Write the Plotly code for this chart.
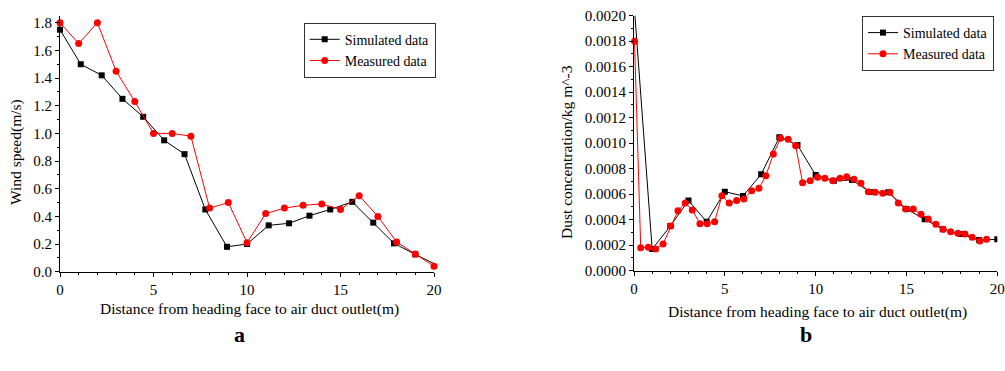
import plotly.graph_objects as go

W, H = 1005, 371

# ---- chart a: wind speed ----
a_sim_x = [0, 1.11, 2.23, 3.34, 4.45, 5.57, 6.66, 7.77, 8.93, 10.0, 11.16, 12.25, 13.34, 14.45, 15.63, 16.75, 17.86, 19.0, 20.05]
a_sim_y = [1.75, 1.50, 1.42, 1.25, 1.12, 0.95, 0.85, 0.45, 0.18, 0.20, 0.335, 0.35, 0.405, 0.45, 0.505, 0.355, 0.205, 0.125, 0.055]
a_mea_x = list(range(0, 21))
a_mea_y = [1.80, 1.65, 1.80, 1.45, 1.23, 1.00, 1.00, 0.98, 0.46, 0.50, 0.21, 0.42, 0.46, 0.48, 0.49, 0.45, 0.55, 0.40, 0.215, 0.128, 0.04]

# ---- chart b: dust concentration ----
b_sim_x = list(range(0, 21))
b_sim_y = [0.0021, 0.00017, 0.00035, 0.00055, 0.000384, 0.00062, 0.000586, 0.000756, 0.001046, 0.000986,
           0.00075, 0.000706, 0.000711, 0.000617, 0.000615, 0.000484, 0.000403, 0.000325, 0.000288, 0.00024, 0.000246]
b_mea_x = [0.03, 0.37, 0.79, 1.19, 1.60, 2.02, 2.42, 2.82, 3.21, 3.63, 4.03, 4.44, 4.84, 5.24, 5.65,
           6.05, 6.48, 6.88, 7.26, 7.67, 8.07, 8.49, 8.90, 9.28, 9.70, 10.11, 10.51, 10.94, 11.34, 11.71,
           12.11, 12.49, 12.90, 13.28, 13.69, 14.09, 14.55, 14.95, 15.37, 15.80, 16.20, 16.62, 17.02, 17.43,
           17.83, 18.22, 18.62, 19.04, 19.41]
b_mea_y = [0.0018, 0.00018, 0.000183, 0.00017, 0.00021, 0.00035, 0.00047, 0.00053, 0.000476, 0.000369,
           0.000369, 0.000384, 0.000588, 0.00053, 0.00055, 0.000562, 0.000627, 0.000646, 0.000745, 0.000915,
           0.001038, 0.00103, 0.00098, 0.00069, 0.000706, 0.000733, 0.000725, 0.000706, 0.000725, 0.000737,
           0.000717, 0.000685, 0.00062, 0.000615, 0.000607, 0.000615, 0.00053, 0.000484, 0.000484, 0.000442,
           0.000405, 0.000364, 0.000325, 0.000306, 0.000293, 0.000288, 0.000262, 0.000233, 0.000246]

series_names = ["Simulated data", "Measured data"]
x_title = "Distance from heading face to air duct outlet(m)"
ya_title = "Wind speed(m/s)"
yb_title = "Dust concentration/kg m^-3"
panel_labels = ["a", "b"]

FONT = "Liberation Serif, Times New Roman, serif"

def px(v):
    return v / W

def py(v):
    return 1 - v / H

fig = go.Figure()

fig.add_trace(go.Scatter(x=a_sim_x, y=a_sim_y, name=series_names[0], mode="lines+markers",
                         line=dict(color="black", width=1), marker=dict(symbol="square", size=6, color="black"),
                         xaxis="x", yaxis="y", legend="legend", cliponaxis=False))
fig.add_trace(go.Scatter(x=a_mea_x, y=a_mea_y, name=series_names[1], mode="lines+markers",
                         line=dict(color="red", width=1), marker=dict(symbol="circle", size=7, color="red"),
                         xaxis="x", yaxis="y", legend="legend", cliponaxis=False))
fig.add_trace(go.Scatter(x=b_sim_x, y=b_sim_y, name=series_names[0], mode="lines+markers",
                         line=dict(color="black", width=1), marker=dict(symbol="square", size=6, color="black"),
                         xaxis="x2", yaxis="y2", legend="legend2", cliponaxis=True))
fig.add_trace(go.Scatter(x=b_mea_x, y=b_mea_y, name=series_names[1], mode="lines+markers",
                         line=dict(color="red", width=1), marker=dict(symbol="circle", size=7, color="red"),
                         xaxis="x2", yaxis="y2", legend="legend2", cliponaxis=False))

axis_common = dict(showline=True, linecolor="black", linewidth=1, showgrid=False, zeroline=False,
                   ticks="outside", ticklen=4, tickwidth=1, tickcolor="black", automargin=False,
                   tickfont=dict(family=FONT, size=15, color="black"))

legend_common = dict(xanchor="right", yanchor="top", bordercolor="#333", borderwidth=1, bgcolor="white",
                     font=dict(family=FONT, size=14, color="black"), tracegroupgap=0)

fig.update_layout(
    width=W, height=H,
    margin=dict(l=0, r=0, t=0, b=0, pad=0, autoexpand=False),
    paper_bgcolor="white", plot_bgcolor="white",
    font=dict(family=FONT, color="black"),
    xaxis=dict(domain=[px(60), px(434)], range=[0, 20], dtick=5, anchor="y",
               minor=dict(dtick=1, ticks="outside", ticklen=2, tickcolor="black"), **axis_common),
    yaxis=dict(domain=[py(271.7), py(15.7)], range=[0, 1.851], dtick=0.2, tickformat=".1f", anchor="x",
               minor=dict(dtick=0.1, ticks="outside", ticklen=2, tickcolor="black"), **axis_common),
    xaxis2=dict(domain=[px(634), px(997.3)], range=[0, 20], dtick=5, anchor="y2",
                minor=dict(dtick=1, ticks="outside", ticklen=2, tickcolor="black"), **axis_common),
    yaxis2=dict(domain=[py(270.7), py(15.7)], range=[0, 0.002], dtick=0.0002, tickformat=".4f", anchor="x2",
                minor=dict(dtick=0.0001, ticks="outside", ticklen=2, tickcolor="black"), **axis_common),
    legend=dict(x=px(435.7), y=py(22.7), **legend_common),
    legend2=dict(x=px(994), y=py(16), **legend_common),
    showlegend=True,
)

ann_font = dict(family=FONT, size=15.5, color="black")
fig.add_annotation(x=px(249), y=py(309), xref="paper", yref="paper", text=x_title, showarrow=False,
                   font=ann_font, xanchor="center", yanchor="middle")
fig.add_annotation(x=px(817), y=py(312), xref="paper", yref="paper", text=x_title, showarrow=False,
                   font=ann_font, xanchor="center", yanchor="middle")
fig.add_annotation(x=px(16), y=py(152), xref="paper", yref="paper", text=ya_title, showarrow=False,
                   font=ann_font, textangle=-90, xanchor="center", yanchor="middle")
fig.add_annotation(x=px(566), y=py(152), xref="paper", yref="paper", text=yb_title, showarrow=False,
                   font=ann_font, textangle=-90, xanchor="center", yanchor="middle")
fig.add_annotation(x=px(239), y=py(334), xref="paper", yref="paper", text="<b>%s</b>" % panel_labels[0],
                   showarrow=False, font=dict(family=FONT, size=22, color="black"), xanchor="center", yanchor="middle")
fig.add_annotation(x=px(806), y=py(334), xref="paper", yref="paper", text="<b>%s</b>" % panel_labels[1],
                   showarrow=False, font=dict(family=FONT, size=22, color="black"), xanchor="center", yanchor="middle")

fig.write_html("out.html", config={"displayModeBar": False},
               post_script="document.body.style.margin='0px';document.body.style.padding='0px';document.body.style.overflow='hidden';")
